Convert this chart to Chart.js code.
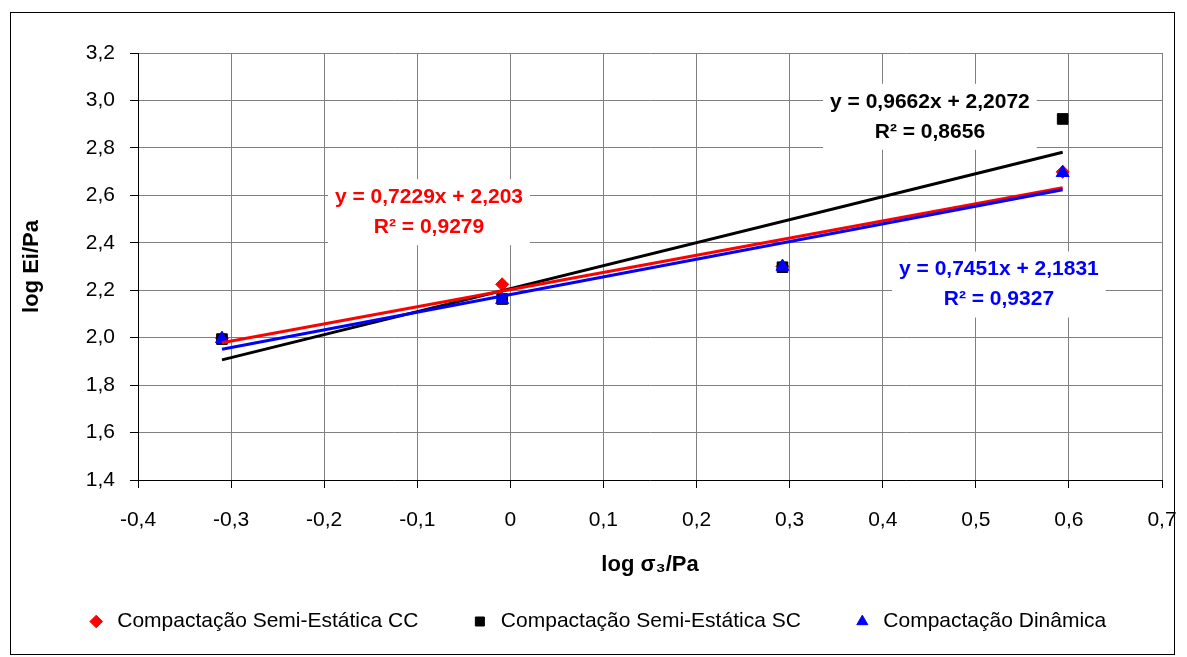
<!DOCTYPE html>
<html>
<head>
<meta charset="utf-8">
<script src="https://cdn.jsdelivr.net/npm/chart.js@4/dist/chart.umd.min.js"></script>
<style>
html, body { margin: 0; padding: 0; background: #fff; }
#wrap { width: 1187px; height: 657px; }
</style>
</head>
<body>
<div id="wrap"><canvas id="grafico"></canvas></div>
<script>
// log σ3 (x) e log Ei (y)
const logSigma3 = [-0.3098, -0.0088, 0.2923, 0.5933];
const semiEstaticaCC = [1.998, 2.225, 2.300, 2.699];
const semiEstaticaSC = [1.994, 2.163, 2.297, 2.922];
const dinamica = [1.995, 2.160, 2.300, 2.695];

const seriesNames = ['Compactação Semi-Estática CC', 'Compactação Semi-Estática SC', 'Compactação Dinâmica'];
const equations = [
  ['y = 0,7229x + 2,203', 'R² = 0,9279'],
  ['y = 0,9662x + 2,2072', 'R² = 0,8656'],
  ['y = 0,7451x + 2,1831', 'R² = 0,9327']
];

const xTickLabels = ['-0,4', '-0,3', '-0,2', '-0,1', '0', '0,1', '0,2', '0,3', '0,4', '0,5', '0,6', '0,7'];
const yTickLabels = ['1,4', '1,6', '1,8', '2,0', '2,2', '2,4', '2,6', '2,8', '3,0', '3,2'];

// onde ficam as caixas das equações (em unidades dos eixos)
const eqPos = [
  { x: -0.0874, y: 2.529, color: '#ff0000' },
  { x: 0.4507, y: 2.931, color: '#000000' },
  { x: 0.5248, y: 2.224, color: '#0000ff' }
];

function pontos(ys) {
  return logSigma3.map((x, i) => ({ x: x, y: ys[i] }));
}

// reta de mínimos quadrados, entre o menor e o maior x
function tendencia(ys) {
  const n = logSigma3.length;
  const mx = logSigma3.reduce((a, b) => a + b, 0) / n;
  const my = ys.reduce((a, b) => a + b, 0) / n;
  let sxy = 0, sxx = 0;
  for (let i = 0; i < n; i++) {
    sxy += (logSigma3[i] - mx) * (ys[i] - my);
    sxx += (logSigma3[i] - mx) * (logSigma3[i] - mx);
  }
  const a = sxy / sxx;
  const b = my - a * mx;
  const x0 = Math.min(...logSigma3), x1 = Math.max(...logSigma3);
  return [{ x: x0, y: a * x0 + b }, { x: x1, y: a * x1 + b }];
}

Chart.defaults.font.family = '"Liberation Sans", Arial, sans-serif';
Chart.defaults.color = '#000';

const moldura = {
  id: 'moldura',
  beforeDraw(chart) {
    const ctx = chart.ctx;
    ctx.save();
    ctx.fillStyle = '#fff';
    ctx.fillRect(0, 0, chart.width, chart.height);
    ctx.strokeStyle = '#000';
    ctx.lineWidth = 1;
    ctx.strokeRect(10.5, 12.5, 1164, 642);
    ctx.restore();
  }
};

const rotulos = {
  id: 'rotulos',
  afterDatasetsDraw(chart) {
    const ctx = chart.ctx;
    const sx = chart.scales.x, sy = chart.scales.y;
    ctx.save();
    ctx.font = 'bold 21px "Liberation Sans", Arial, sans-serif';
    ctx.textAlign = 'center';
    ctx.textBaseline = 'middle';
    eqPos.forEach((p, i) => {
      const cx = sx.getPixelForValue(p.x);
      const cy = sy.getPixelForValue(p.y);
      const w = Math.max(...equations[i].map(t => ctx.measureText(t).width)) + 14;
      const h = 66;
      ctx.fillStyle = '#fff';
      ctx.fillRect(cx - w / 2, cy - h / 2, w, h);
      ctx.fillStyle = p.color;
      ctx.fillText(equations[i][0], cx, cy - 15);
      ctx.fillText(equations[i][1], cx, cy + 15);
    });
    ctx.restore();
  }
};

new Chart(document.getElementById('grafico'), {
  type: 'scatter',
  data: {
    datasets: [
      {
        label: seriesNames[0],
        data: pontos(semiEstaticaCC),
        pointStyle: 'rectRot',
        pointRadius: 6.5,
        backgroundColor: '#ff0000',
        borderColor: '#ff0000',
        borderWidth: 1,
        order: 3
      },
      {
        label: seriesNames[1],
        data: pontos(semiEstaticaSC),
        pointStyle: 'rect',
        pointRadius: 7.5,
        backgroundColor: '#000000',
        borderColor: '#000000',
        borderWidth: 1,
        order: 2
      },
      {
        label: seriesNames[2],
        data: pontos(dinamica),
        pointStyle: 'triangle',
        pointRadius: 7.5,
        backgroundColor: '#0000ff',
        borderColor: '#0000ff',
        borderWidth: 1,
        order: 1
      },
      {
        label: 'tend CC',
        data: tendencia(semiEstaticaCC),
        showLine: true,
        pointRadius: 0,
        borderColor: '#ff0000',
        borderWidth: 3,
        order: -2
      },
      {
        label: 'tend SC',
        data: tendencia(semiEstaticaSC),
        showLine: true,
        pointRadius: 0,
        borderColor: '#000000',
        borderWidth: 3,
        order: -1
      },
      {
        label: 'tend Din',
        data: tendencia(dinamica),
        showLine: true,
        pointRadius: 0,
        borderColor: '#0000ff',
        borderWidth: 3,
        order: -3
      }
    ]
  },
  options: {
    responsive: true,
    maintainAspectRatio: false,
    animation: false,
    layout: { padding: { left: 30, right: 25, top: 53, bottom: 15 } },
    plugins: {
      tooltip: { enabled: false },
      legend: {
        position: 'bottom',
        maxHeight: 87,
        labels: {
          usePointStyle: true,
          boxHeight: 9,
          padding: 51,
          font: { size: 21 },
          filter: item => item.datasetIndex < 3,
          sort: (a, b) => a.datasetIndex - b.datasetIndex
        }
      }
    },
    scales: {
      x: {
        type: 'linear',
        min: -0.4,
        max: 0.7,
        afterFit(scale) {
          scale.height = 80;
          scale.paddingLeft = 0;
          scale.paddingRight = 0;
        },
        ticks: {
          stepSize: 0.1,
          padding: 20,
          font: { size: 21 },
          callback: (v, i) => xTickLabels[i]
        },
        grid: { color: '#808080', tickColor: '#000', tickLength: 8 },
        border: { color: '#000' },
        title: {
          display: true,
          text: 'log σ₃/Pa',
          font: { size: 22, weight: 'bold' },
          padding: { top: 0, bottom: -18 }
        }
      },
      y: {
        type: 'linear',
        min: 1.4,
        max: 3.2,
        afterFit(scale) { scale.width = 108; },
        ticks: {
          stepSize: 0.2,
          padding: 15,
          font: { size: 21 },
          callback: (v, i) => yTickLabels[i]
        },
        grid: { color: '#808080', tickColor: '#000', tickLength: 8 },
        border: { color: '#000' },
        title: {
          display: true,
          text: 'log Ei/Pa',
          font: { size: 22, weight: 'bold' },
          padding: { top: -11, bottom: 0 }
        }
      }
    }
  },
  plugins: [moldura, rotulos]
});
</script>
</body>
</html>
